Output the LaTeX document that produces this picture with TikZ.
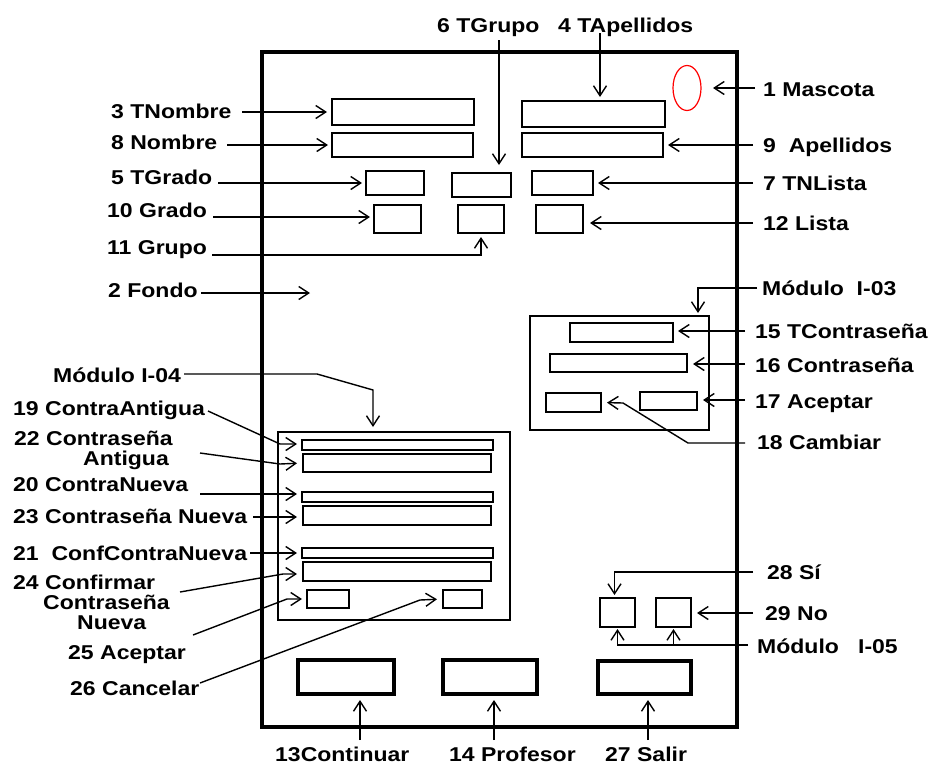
\documentclass[tikz,border=0pt]{standalone}
\usepackage{fontspec}
\setmainfont{Liberation Sans}[FakeStretch=1.15]
\usetikzlibrary{arrows.meta,fit,calc,shapes.geometric}
\begin{document}
\begin{tikzpicture}[x=1pt,y=-1pt,
  lbl/.style={font=\bfseries\fontsize{20}{20}\selectfont, inner sep=0pt, anchor=base west, align=left},
  box/.style={draw, line width=1.6pt, inner sep=0pt, outer sep=0pt},
  btn/.style={draw, line width=4pt, inner sep=0pt, outer sep=0pt},
  con/.style={line width=1.4pt},
  arr/.style={con, -{Straight Barb[length=10pt, width=13pt, line width=1.4pt]}}]
\useasboundingbox (0,0) rectangle (937,766);
% main frame
\node[btn, fit={(262,52) (737,727)}] (frame) {};
% top fields
\node[box, fit={(332,99) (474,125)}] (tnom) {};
\node[box, fit={(332,133) (473,157)}] (nom) {};
\node[box, fit={(522,101) (665,127)}] (tape) {};
\node[box, fit={(522,133) (663,157)}] (ape) {};
\node[box, fit={(366,171) (424,195)}] (tgra) {};
\node[box, fit={(452,173) (511,197)}] (tgru) {};
\node[box, fit={(532,171) (593,195)}] (tnl) {};
\node[box, fit={(374,205) (421,233)}] (gra) {};
\node[box, fit={(458,205) (504,233)}] (gru) {};
\node[box, fit={(536,205) (583,233)}] (lis) {};
\node[draw=red, ellipse, line width=1.2pt, inner sep=0pt, outer sep=0pt, minimum width=28pt, minimum height=45pt] (masc) at (687,88) {};
% modulo I-03
\node[box, fit={(530,316) (709,430)}] (m3) {};
\node[box, fit={(570,323) (673,342)}] (tcon) {};
\node[box, fit={(550,354) (687,372)}] (con) {};
\node[box, fit={(640,392) (697,410)}] (acep3) {};
\node[box, fit={(546,393) (601,412)}] (camb) {};
% modulo I-04
\node[box, fit={(278,432) (510,620)}] (m4) {};
\node[box, fit={(302,440) (493,450)}] (b19) {};
\node[box, fit={(303,454) (491,472)}] (b22) {};
\node[box, fit={(302,492) (493,502)}] (b20) {};
\node[box, fit={(303,506) (491,525)}] (b23) {};
\node[box, fit={(302,548) (493,558)}] (b21) {};
\node[box, fit={(303,562) (491,581)}] (b24) {};
\node[box, fit={(307,590) (349,608)}] (b25) {};
\node[box, fit={(443,590) (482,608)}] (b26) {};
% modulo I-05
\node[box, fit={(600,598) (635,627)}] (si) {};
\node[box, fit={(656,598) (691,627)}] (no) {};
% bottom buttons
\node[btn, fit={(298,660) (394,694)}] (cont) {};
\node[btn, fit={(443,660) (537,694)}] (prof) {};
\node[btn, fit={(598,661) (691,694)}] (salir) {};
% labels
\node[lbl] (l3) at (111,118) {3 TNombre};
\node[lbl] (l8) at (111,149) {8 Nombre};
\node[lbl] (l5) at (111,184) {5 TGrado};
\node[lbl] (l10) at (107,217) {10 Grado};
\node[lbl] (l11) at (107,254) {11 Grupo};
\node[lbl] (l2) at (108,297) {2 Fondo};
\node[lbl] (lm4) at (53,382) {Módulo I-04};
\node[lbl] (l19) at (13,415) {19 ContraAntigua};
\node[lbl] (l22) at (14,465) {22 Contraseña\\\hspace*{69pt}Antigua};
\node[lbl] (l20) at (13,491) {20 ContraNueva};
\node[lbl] (l23) at (13,523) {23 Contraseña Nueva};
\node[lbl] (l21) at (13,560) {21\ \ ConfContraNueva};
\node[lbl] (l24) at (13,629) {24 Confirmar\\\hspace*{30pt}Contraseña\\\hspace*{64pt}Nueva};
\node[lbl] (l25) at (68,659) {25 Aceptar};
\node[lbl] (l26) at (70,695) {26 Cancelar};
\node[lbl] (l6) at (437,32) {6 TGrupo};
\node[lbl] (l4) at (558,32) {4 TApellidos};
\node[lbl] (l1) at (763,96) {1 Mascota};
\node[lbl] (l9) at (763,152) {9\ \ Apellidos};
\node[lbl] (l7) at (763,190) {7 TNLista};
\node[lbl] (l12) at (763,230) {12 Lista};
\node[lbl] (lm3) at (762,295) {Módulo\ \ I-03};
\node[lbl] (l15) at (755,338) {15 TContraseña};
\node[lbl] (l16) at (755,372) {16 Contraseña};
\node[lbl] (l17) at (755,408) {17 Aceptar};
\node[lbl] (l18) at (757,449) {18 Cambiar};
\node[lbl] (l28) at (767,579) {28 Sí};
\node[lbl] (l29) at (765,620) {29 No};
\node[lbl] (lm5) at (757,653) {Módulo\ \ \ I-05};
\node[lbl] (l13) at (275,761) {13Continuar};
\node[lbl] (l14) at (449,761) {14 Profesor};
\node[lbl] (l27) at (605,761) {27 Salir};
% connector start points
\coordinate (s3) at (242,112);
\coordinate (s8) at (227,145);
\coordinate (s5) at (218,183);
\coordinate (s10) at (213,217);
\coordinate (s11) at (212,255);
\coordinate (s2) at (201,293);
\coordinate (fondo) at (310,293);
\coordinate (sm4) at (184,374);
\coordinate (s19) at (208,411);
\coordinate (s22) at (200,453);
\coordinate (s20) at (200,494);
\coordinate (s23) at (253,517);
\coordinate (s21) at (250,553);
\coordinate (s24) at (180,592);
\coordinate (s25) at (193,635);
\coordinate (s26) at (200,683);
\coordinate (s6) at (499,40);
\coordinate (s4) at (600,33);
\coordinate (s1) at (755,88);
\coordinate (s9) at (753,145);
\coordinate (s7) at (753,183);
\coordinate (s12) at (753,223);
\coordinate (sm3) at (757,288);
\coordinate (s15) at (745,331);
\coordinate (s16) at (745,364);
\coordinate (s17) at (745,400);
\coordinate (s18) at (745,443);
\coordinate (s28) at (753,572);
\coordinate (s29) at (753,613);
\coordinate (sm5) at (748,645);
\coordinate (s13) at (360,740);
\coordinate (s14) at (494,740);
\coordinate (s27) at (648,740);
% connectors
\draw[arr, shorten >=5pt] (s3) -- (tnom.west |- s3);
\draw[arr, shorten >=4pt] (s8) -- (nom.west |- s8);
\draw[arr, shorten >=4pt] (s5) -- (tgra.west |- s5);
\draw[arr, shorten >=4pt] (s10) -- (gra.west |- s10);
\draw[arr, shorten >=4pt] (s11) -| (gru.south);
\draw[arr] (s2) -- (fondo);
\draw[arr, shorten >=5pt] (sm4) -- (317,374) -- (373,390) -- (373,390 |- m4.north);
\draw[arr, shorten >=5pt] (s19) -- (280,444) -- (b19.west |- 0,444);
\draw[arr, shorten >=6pt] (s22) -- (280,464) -- (b22.west);
\draw[arr, shorten >=5pt] (s20) -- (b20.west |- s20);
\draw[arr, shorten >=6pt] (s23) -- (b23.west |- s23);
\draw[arr, shorten >=5pt] (s21) -- (b21.west |- s21);
\draw[arr, shorten >=6pt] (s24) -- (283,574) -- (b24.west |- 0,574);
\draw[arr, shorten >=5pt] (s25) -- (287,599) -- (b25.west);
\draw[arr, shorten >=6pt] (s26) -- (420,600) -- (b26.west);
\draw[arr, shorten >=8pt] (s6) -- (s6 |- tgru.north);
\draw[arr, shorten >=4pt] (s4) -- (s4 |- tape.north);
\draw[arr, shorten >=12pt] (s1) -- (masc.east);
\draw[arr, shorten >=5pt] (s9) -- (ape.east |- s9);
\draw[arr, shorten >=5pt] (s7) -- (tnl.east |- s7);
\draw[arr, shorten >=7pt] (s12) -- (lis.east |- s12);
\draw[arr, shorten >=3pt] (sm3) -| ($(m3.north east)+(-11,0)$);
\draw[arr, shorten >=5pt] (s15) -- (tcon.east |- s15);
\draw[arr, shorten >=6pt] (s16) -- (con.east |- s16);
\draw[arr, shorten >=6pt] (s17) -- (acep3.east |- s17);
\draw[arr, shorten >=6pt] (s18) -- (688,443) -- (623,403) -- (camb.east);
\draw[arr, shorten >=3pt] (s28) -| ($(si.north)+(-3,0)$);
\draw[arr, shorten >=6pt] (s29) -- (no.east |- s29);
\draw[arr, shorten >=2pt] (sm5) -| (si.south);
\draw[arr, shorten >=2pt] (no.south |- sm5) -- (no.south);
\draw[arr, shorten >=6pt] (s13) -- (s13 |- cont.south);
\draw[arr, shorten >=6pt] (s14) -- (s14 |- prof.south);
\draw[arr, shorten >=6pt] (s27) -- (s27 |- salir.south);
\end{tikzpicture}
\end{document}
